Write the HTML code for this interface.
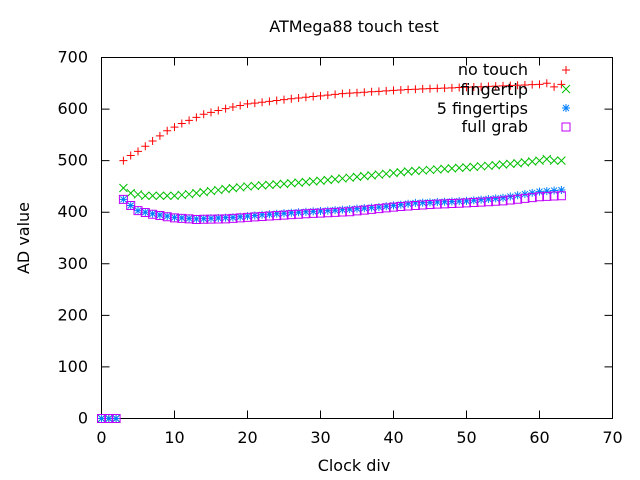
<!DOCTYPE html>
<html><head><meta charset="utf-8"><style>
html,body{margin:0;padding:0;background:#fff;width:640px;height:480px;overflow:hidden}
svg{display:block;font-family:"DejaVu Sans","Liberation Sans",sans-serif}
</style></head><body>
<svg id="s" width="640" height="480" viewBox="0 0 640 480" xmlns="http://www.w3.org/2000/svg">
<rect width="640" height="480" fill="#fff"/>
<text x="354" y="32" font-size="16" text-anchor="middle">ATMega88 touch test</text>
<text x="354" y="471" font-size="16" text-anchor="middle">Clock div</text>
<text x="29" y="238" font-size="16" text-anchor="middle" transform="rotate(-90 29 238)">AD value</text>
<g id="ax" stroke="#000" stroke-width="1" fill="none"></g>
<g id="lab" font-size="16" fill="#000"></g>
<g id="data" fill="none" stroke-width="1"></g>
<g font-size="16" text-anchor="end">
<text x="528" y="75">no touch</text>
<text x="528" y="95">fingertip</text>
<text x="528" y="114">5 fingertips</text>
<text x="528" y="132">full grab</text>
</g>
</svg>
<script>
var X=function(x){return 101.5+x*7.3},Y=function(v){return 418.5-v*0.5157};
var ns="http://www.w3.org/2000/svg";
function el(p,t,a){var e=document.createElementNS(ns,t);for(var k in a)e.setAttribute(k,a[k]);p.appendChild(e);return e}
var ax=document.getElementById('ax'),lab=document.getElementById('lab'),dg=document.getElementById('data');
el(ax,'rect',{x:101.5,y:57.5,width:511,height:361});
for(var v=0;v<=700;v+=100){var y=Y(v);el(ax,'path',{d:'M101.5 '+y+'h8M612.5 '+y+'h-8'});var t=el(lab,'text',{x:88,y:y+5,'text-anchor':'end'});t.textContent=v;}
for(var x=0;x<=70;x+=10){var xx=X(x);el(ax,'path',{d:'M'+xx+' 418.5v-8M'+xx+' 57.5v8'});var t=el(lab,'text',{x:xx,y:443,'text-anchor':'middle'});t.textContent=x;}
function interp(k,x){for(var i=0;i<k.length-1;i++){if(x>=k[i][0]&&x<=k[i+1][0]){var f=(x-k[i][0])/(k[i+1][0]-k[i][0]);return k[i][1]+f*(k[i+1][1]-k[i][1]);}}return k[k.length-1][1]}
var S=[
{c:'#ff0000',m:'+',k:[[3,500],[4,510],[5,518],[6,528],[7,538],[9,558],[11,572],[14,590],[17,601],[20,610],[26,620],[33,630],[42,638],[55,645],[60,648],[61,650],[62,643],[63,648]]},
{c:'#00c000',m:'x',k:[[3,447],[4,437],[6,432],[10,432],[12,435],[17,445],[20,450],[25,455],[30,461],[36,470],[42,479],[48,485],[53,490],[57,495],[60,500],[61,503],[62,500],[63,500]]},
{c:'#0080ff',m:'*',k:[[3,425],[4,413],[5,403],[7,397],[10,390],[13,387],[18,390],[22,395],[27,400],[32,404],[38,410],[43,418],[50,422],[55,428],[60,440],[63,443]]},
{c:'#c000ff',m:'s',k:[[3,425],[4,413],[5,403],[7,396],[10,389],[13,386],[17,387],[20,390],[28,397],[34,401],[40,410],[45,415],[50,418],[55,422],[60,430],[63,432]]}];
function mark(s,px,py){var d;if(s.m=='+')d='M'+(px-4)+' '+py+'h8M'+px+' '+(py-4)+'v8';
else if(s.m=='x')d='M'+(px-4)+' '+(py-4)+'l8 8M'+(px-4)+' '+(py+4)+'l8 -8';
else if(s.m=='*')d='M'+(px-4)+' '+py+'h8M'+px+' '+(py-4)+'v8M'+(px-3)+' '+(py-3)+'l6 6M'+(px-3)+' '+(py+3)+'l6 -6';
else d='M'+(px-4)+' '+(py-4)+'h8v8h-8z';
el(dg,'path',{d:d,stroke:s.c});}
S.forEach(function(s,i){for(var x=0;x<=63;x++){var v=x<3?0:interp(s.k,x);mark(s,X(x),Y(v));}mark(s,566,[70,89,108,127][i]);});
</script>
</body></html>
